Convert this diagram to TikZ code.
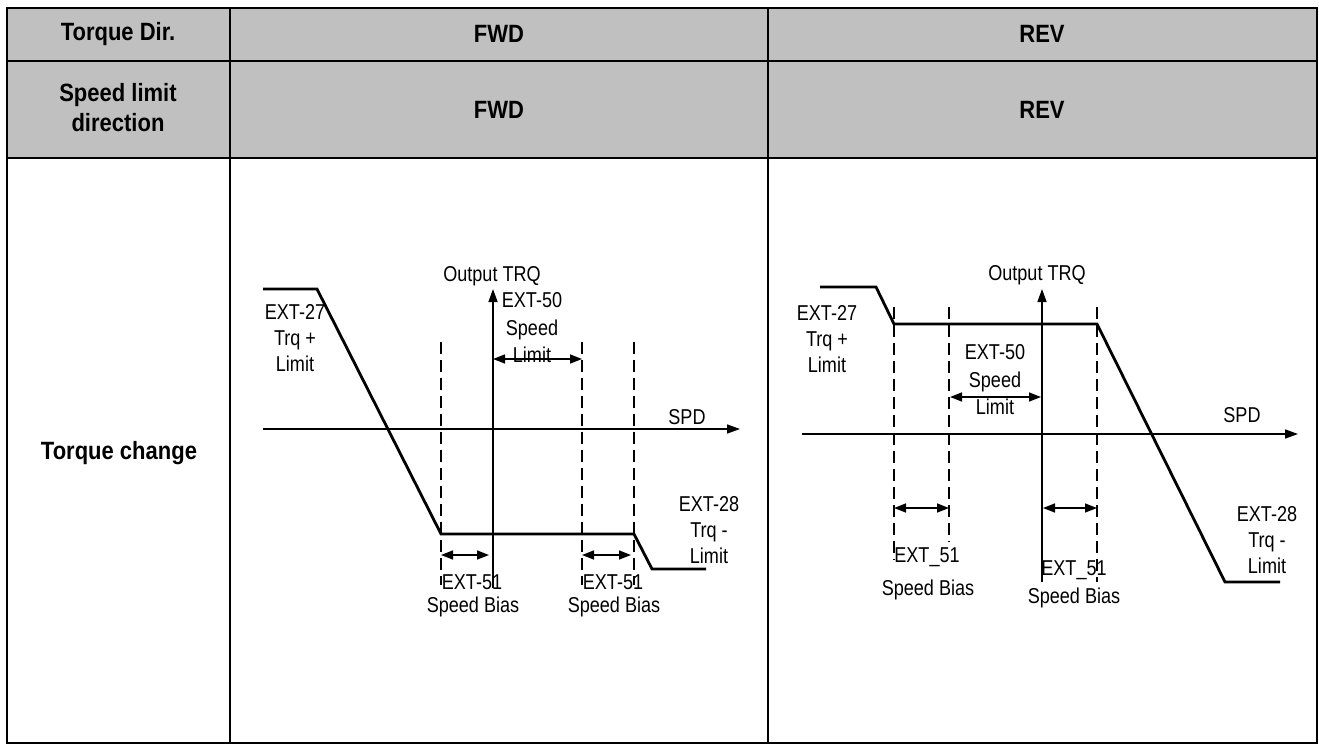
\documentclass[tikz,border=0pt]{standalone}
\usepackage{fontspec}
\setmainfont{Liberation Sans}[FakeStretch=0.84]
\newfontfamily\hdrfont{Liberation Sans}[FakeStretch=0.88]
\usepackage{tikz}
\usetikzlibrary{arrows.meta, positioning, calc}
\definecolor{hdrgray}{RGB}{192,192,192}
\tikzset{
  gridline/.style={draw=black, line width=2.4pt},
  hdr/.style={font=\hdrfont\fontsize{25}{30}\selectfont\bfseries, align=center, inner sep=0pt},
  lbl/.style={font=\fontsize{21.5}{26}\selectfont, align=center, inner sep=0pt},
  axisline/.style={line width=1.5pt, -{Triangle[length=13pt,width=9pt]}},
  trqcurve/.style={line width=2.8pt, line join=miter},
  guide/.style={line width=1.2pt, dash pattern=on 12pt off 6pt},
  bias/.style={line width=1.5pt,
    {Triangle[length=12pt,width=9pt]}-{Triangle[length=12pt,width=9pt]}}
}

\begin{document}
\begin{tikzpicture}[x=1pt, y=-1pt]
  \useasboundingbox (0,0) rectangle (1319,744);

  % table
  \fill[hdrgray] (7,8) rectangle (1317,158);
  \draw[gridline] (7,8) rectangle (1317,743);
  \draw[gridline] (7,61) -- (1317,61);
  \draw[gridline] (7,158) -- (1317,158);
  \draw[gridline] (230,8) -- (230,743);
  \draw[gridline] (768,8) -- (768,743);

  \node[hdr] (dirhead) at (118,34) {Torque Dir.};
  \node[hdr] (dirfwd) at (499,34) {FWD};
  \node[hdr] (dirrev) at (1042,34) {REV};
  \node[hdr] (limhead) at (118,108) {Speed limit\\direction};
  \node[hdr] (limfwd) at (499,110) {FWD};
  \node[hdr] (limrev) at (1042,110) {REV};
  \node[hdr] (chghead) at (119,453) {Torque change};

  % FWD panel
  \coordinate (fxl) at (263,429);
  \coordinate (fxr) at (740,429);
  \coordinate (fyb) at (493,588);
  \coordinate (fyt) at (493,289);
  \draw[axisline] (fxl) -- (fxr);
  \draw[axisline] (fyb) -- (fyt);

  \foreach \gx in {441,582,634}
    \draw[guide] (\gx,342) -- (\gx,585);

  \draw[trqcurve] (263,289) -- (317,289) -- (441,534) -- (634,534)
    -- (652,569) -- (706,569);

  \coordinate (flima) at (493,359);
  \coordinate (flimb) at (582,359);
  \draw[bias] (flima) -- (flimb);
  \coordinate (fba) at (441,555);
  \coordinate (fbb) at (489,555);
  \coordinate (fbc) at (582,555);
  \coordinate (fbd) at (631,555);
  \draw[bias] (fba) -- (fbb);
  \draw[bias] (fbc) -- (fbd);

  \node[lbl] (fout) at (492,276) {Output TRQ};
  \node[lbl, font=\fontsize{21.5}{27.5}\selectfont] (flim) at (532,328) {EXT-50\\Speed\\Limit};
  \node[lbl] (fspd) at (687,417) {SPD};
  \node[lbl] (fpos) at (295,338) {EXT-27\\Trq +\\Limit};
  \node[lbl] (fneg) at (709,530) {EXT-28\\Trq -\\Limit};
  \node[lbl] (fbiasa) at (472,582) {EXT-51};
  \node[lbl] (fbiasat) at (473,607) {Speed Bias};
  \node[lbl] (fbiasb) at (613,582) {EXT-51};
  \node[lbl] (fbiasbt) at (614,607) {Speed Bias};

  % REV panel
  \coordinate (rxl) at (802,434);
  \coordinate (rxr) at (1298,434);
  \coordinate (ryb) at (1042,582);
  \coordinate (ryt) at (1042,289);
  \draw[axisline] (rxl) -- (rxr);
  \draw[axisline] (ryb) -- (ryt);

  \draw[guide] (894,307) -- (894,560);
  \draw[guide] (949,307) -- (949,542);
  \draw[guide] (1097,307) -- (1097,582);

  \draw[trqcurve] (820,287) -- (876,287) -- (894,324) -- (1097,324)
    -- (1225,582) -- (1280,582);

  \coordinate (rlima) at (950,397);
  \coordinate (rlimb) at (1041,397);
  \draw[bias] (rlima) -- (rlimb);
  \coordinate (rba) at (894,508);
  \coordinate (rbb) at (949,508);
  \coordinate (rbc) at (1043,508);
  \coordinate (rbd) at (1097,508);
  \draw[bias] (rba) -- (rbb);
  \draw[bias] (rbc) -- (rbd);

  \node[lbl] (rout) at (1037,275) {Output TRQ};
  \node[lbl, font=\fontsize{21.5}{27.5}\selectfont] (rlim) at (995,380) {EXT-50\\Speed\\Limit};
  \node[lbl] (rspd) at (1242,415) {SPD};
  \node[lbl] (rpos) at (827,339) {EXT-27\\Trq +\\Limit};
  \node[lbl] (rneg) at (1267,540) {EXT-28\\Trq -\\Limit};
  \node[lbl] (rbiasa) at (927,557) {EXT\_51};
  \node[lbl] (rbiasat) at (928,590) {Speed Bias};
  \node[lbl] (rbiasb) at (1074,570) {EXT\_51};
  \node[lbl] (rbiasbt) at (1074,598) {Speed Bias};
\end{tikzpicture}
\end{document}
